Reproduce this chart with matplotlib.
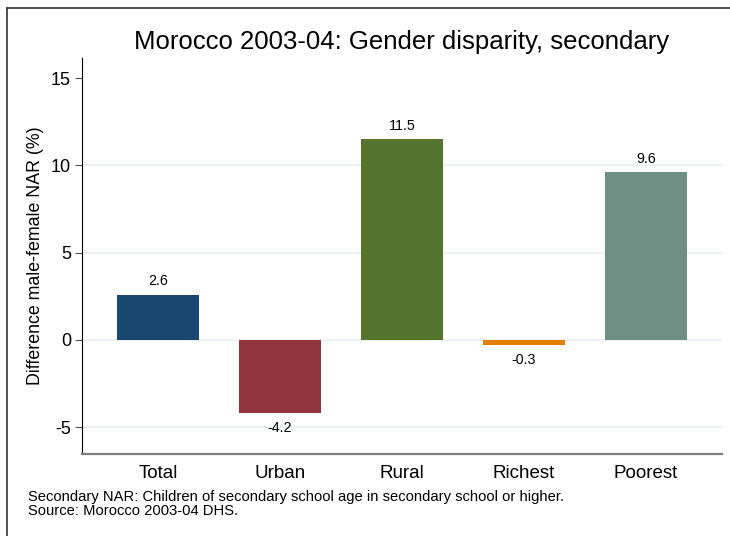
import matplotlib.pyplot as plt
from matplotlib.lines import Line2D

plt.rcParams['font.family'] = ['Liberation Sans', 'DejaVu Sans']

categories = ['Total', 'Urban', 'Rural', 'Richest', 'Poorest']
values = [2.6, -4.2, 11.5, -0.3, 9.6]
colors = ['#1a476f', '#90353b', '#55752f', '#e37e00', '#6e8e84']
yticks = [-5, 0, 5, 10, 15]

fig = plt.figure(figsize=(7.3, 5.36), dpi=100)
ax = fig.add_axes([82 / 730, 1 - 454 / 536, 640 / 730, 396 / 536])

x = list(range(len(categories)))
ax.bar(x, values, width=0.672, color=colors, zorder=3)

for xi, v in zip(x, values):
    off = 0.78 if v >= 0 else -0.85
    ax.text(xi, v + off, f'{v:.1f}', ha='center', va='center', fontsize=10.3)

ax.set_xlim(-0.623, 4.623)
ax.set_ylim(-6.53, 16.15)
ax.set_yticks(yticks)
ax.set_yticklabels([str(t) for t in yticks], fontsize=13)
ax.set_xticks(x)
ax.set_xticklabels(categories, fontsize=13.5)
ax.tick_params(axis='x', length=0, pad=8)
ax.tick_params(axis='y', length=5, color='#555555', pad=3)

for g in [-5, 0, 5, 10]:
    ax.axhline(g, color='#e8eff2', lw=1.2, zorder=1)

ax.spines['top'].set_visible(False)
ax.spines['right'].set_visible(False)
ax.spines['left'].set_color('black')
ax.spines['bottom'].set_color('#7f7f7f')
ax.spines['bottom'].set_linewidth(1.6)

ax.set_ylabel('Difference male-female NAR (%)', fontsize=12.8, labelpad=5)
fig.text(402 / 730, 1 - 42 / 536, 'Morocco 2003-04: Gender disparity, secondary',
         ha='center', va='center', fontsize=18.5)

fig.text(28 / 730, 1 - 497 / 536,
         'Secondary NAR: Children of secondary school age in secondary school or higher.',
         ha='left', va='center', fontsize=10.6)
fig.text(28 / 730, 1 - 511 / 536, 'Source: Morocco 2003-04 DHS.',
         ha='left', va='center', fontsize=10.6)

# outer frame edges
fig.add_artist(Line2D([7 / 730, 7 / 730], [0, 1 - 8 / 536], color='#333333', lw=1.2,
                      transform=fig.transFigure))
fig.add_artist(Line2D([7 / 730, 1], [1 - 8 / 536, 1 - 8 / 536], color='#333333', lw=1.2,
                      transform=fig.transFigure))

fig.savefig('out.png', dpi=100)
